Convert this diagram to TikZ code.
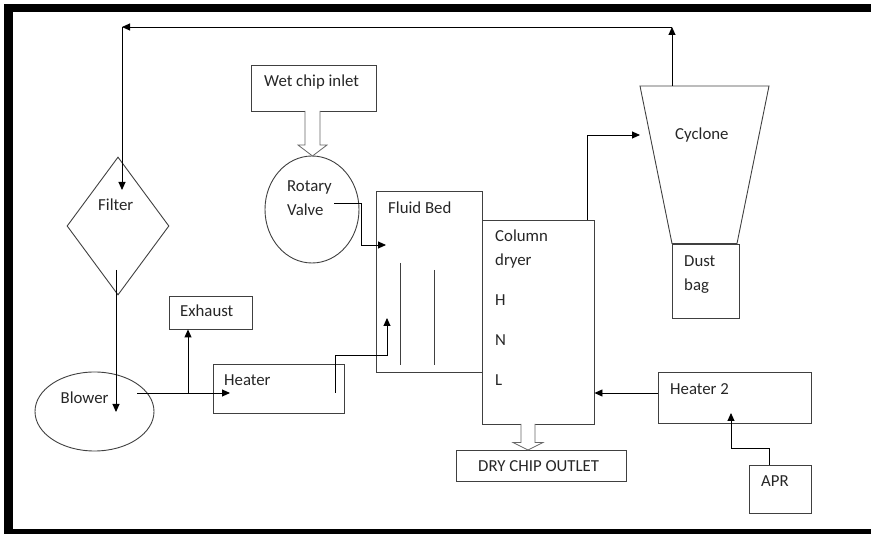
\documentclass[tikz,border=0pt]{standalone}
\usepackage{fontspec}
\setmainfont{Carlito}
\usetikzlibrary{arrows.meta,shapes.geometric}

\tikzset{
  unit/.style={draw=black!75, line width=0.9pt, inner sep=0pt},
  lbl/.style={text=black!85, font=\fontsize{16.8}{20}\selectfont, inner sep=0pt, anchor=base west},
  flow/.style={draw=black, line width=0.9pt, -{Triangle[length=8pt,width=7pt]}},
  chute/.style={draw=black!60, line width=0.8pt, fill=white},
}

% hollow feed arrow: x, top y, tip y, head length, shaft half width, head half width
\newcommand{\feedarrow}[6]{%
  \draw[chute] (#1-#5,#2) -- (#1-#5,#3-#4) -- (#1-#6,#3-#4) -- (#1,#3)
    -- (#1+#6,#3-#4) -- (#1+#5,#3-#4) -- (#1+#5,#2);
}

\begin{document}
\begin{tikzpicture}[x=1pt,y=-1pt]
    \useasboundingbox (0,0) rectangle (871,534);

    % frame
    \begin{scope}
      \clip (0,0) rectangle (871,534);
      \draw[line width=8.3pt] (8.6,8.2) rectangle (895,533);
    \end{scope}

    % units
    \node[unit, diamond, minimum width=102pt, minimum height=138pt] (filter) at (118,226) {};
    \node[unit, ellipse, minimum width=119pt, minimum height=79pt] (blower) at (94.5,411.5) {};
    \node[unit, minimum width=83pt, minimum height=33pt] (exhaust) at (210.5,312.5) {};
    \node[unit, minimum width=131pt, minimum height=49pt] (heater) at (278.5,388.5) {};
    \node[unit, minimum width=125pt, minimum height=46pt] (wetin) at (313.5,88) {};
    \node[unit, ellipse, minimum width=94pt, minimum height=107pt] (valve) at (312,209.5) {};
    \node[unit, minimum width=106pt, minimum height=181pt] (bed) at (429,281.5) {};
    \node[unit, minimum width=112pt, minimum height=204pt] (column) at (538,322) {};
    \node[unit, minimum width=170pt, minimum height=31pt] (outlet) at (541,465.5) {};
    \node[unit, minimum width=67pt, minimum height=74pt] (dustbag) at (705.5,281) {};
    \node[unit, minimum width=153pt, minimum height=51pt] (heatertwo) at (734.5,397.5) {};
    \node[unit, minimum width=62pt, minimum height=48pt] (apr) at (780,489) {};

    % cyclone
    \draw[unit] (640,86) -- (769,86) -- (737,243.5) -- (672,243.5) -- cycle;
    \coordinate (cyctop) at (672,86);
    \coordinate (cycin) at (640,135);

    % fluid bed baffles
    \draw[unit] (400,263) -- (400,365);
    \draw[unit] (434,270) -- (434,365);

    % labels
    \node[lbl] (tfilter) at (98,210.5) {Filter};
    \node[lbl] (tblower) at (60.5,403.5) {Blower};
    \node[lbl] (texhaust) at (180,317) {Exhaust};
    \node[lbl] (theater) at (224,386) {Heater};
    \node[lbl] (twetin) at (264,87) {Wet chip inlet};
    \node[lbl] (trotary) at (287,192) {Rotary};
    \node[lbl] (tvalve) at (287,216) {Valve};
    \node[lbl] (tbed) at (388,213.5) {Fluid Bed};
    \node[lbl] (tcolumn) at (495,242) {Column};
    \node[lbl] (tdryer) at (495,266) {dryer};
    \node[lbl] (th) at (495,306) {H};
    \node[lbl] (tn) at (495,346) {N};
    \node[lbl] (tl) at (495,385.5) {L};
    \node[lbl] (tcyclone) at (675,139.5) {Cyclone};
    \node[lbl] (tdust) at (684,267) {Dust};
    \node[lbl] (tbag) at (684,290.5) {bag};
    \node[lbl] (theatertwo) at (670,395) {Heater 2};
    \node[lbl] (tapr) at (761,487) {APR};
    \node[lbl] (toutlet) at (478,471.5) {DRY CHIP OUTLET};

    % return air loop
    \coordinate (retr) at (672,27);
    \coordinate (retl) at (122,27);
    \draw[flow] (cyctop) -- (retr);
    \draw[flow] (retr) -- (retl);
    \draw[flow] (retl) -- (122,190);

    % filter to blower, blower to heater and exhaust
    \draw[flow] (116,270) -- (116,412);
    \coordinate (split) at (188,393);
    \draw[flow] (137,393) -- (230,393);
    \draw[flow] (split) -- (split |- exhaust.south);

    % hot air into the fluid bed
    \draw[flow] (335,393) -- (335,355) -- (387,355) -- (387,318);

    % chips from the rotary valve
    \draw[flow] (334,203) -- (361,203) -- (361,245) -- (386,245);

    % column to cyclone
    \draw[flow] (587,220) -- (587,135) -- (cycin);

    % heater 2 and APR
    \draw[flow] ([yshift=4.5pt]heatertwo.west) -- ([yshift=4.5pt]heatertwo.west -| column.east);
    \draw[flow] ([xshift=-11pt]apr.north) -- (769,448) -- (731,448) -- (731,413);

    % hollow feed arrows
    \feedarrow{312.5}{111}{156}{11}{7.5}{14.5}
    \feedarrow{528}{424}{450}{7.5}{7}{15}
\end{tikzpicture}
\end{document}
